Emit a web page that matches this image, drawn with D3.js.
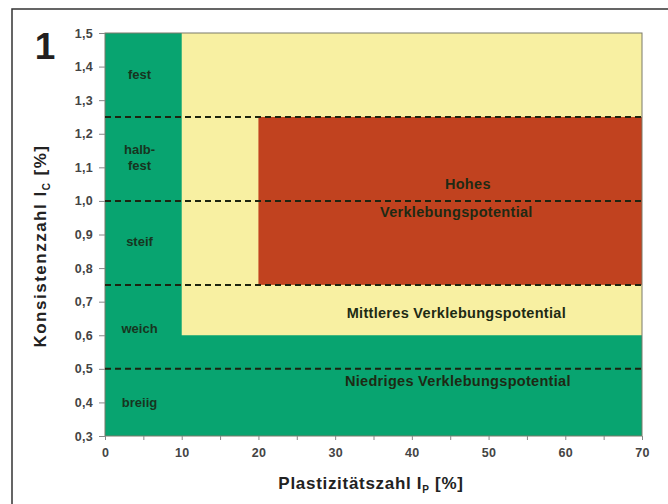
<!DOCTYPE html>
<html><head><meta charset="utf-8">
<script src="https://cdn.jsdelivr.net/npm/d3@7"></script>
<style>body{margin:0;background:#fff}svg{display:block}</style>
</head><body>
<script>
const xTicks = [0,10,20,30,40,50,60,70];
const xMinor = [5,15,25,35,45,55,65];
const yTicks = [0.3,0.4,0.5,0.6,0.7,0.8,0.9,1.0,1.1,1.2,1.3,1.4,1.5];
const zones = [
  {name:"niedrig", x0:0, x1:70, y0:0.3, y1:1.5, color:"#08a470"},
  {name:"mittel", x0:10, x1:70, y0:0.6, y1:1.5, color:"#f8f0a2"},
  {name:"hoch", x0:20, x1:70, y0:0.75, y1:1.25, color:"#c1421f"}
];
const dashLevels = [1.25, 1.0, 0.75, 0.5];
const stateLabels = [
  {lines:["fest"], x:4.5, y:1.375},
  {lines:["halb-","fest"], x:4.5, y:1.13},
  {lines:["steif"], x:4.5, y:0.88},
  {lines:["weich"], x:4.5, y:0.62},
  {lines:["breiig"], x:4.5, y:0.40}
];
const zoneLabels = [
  {text:"Hohes", x:47.3, y:1.05},
  {text:"Verklebungspotential", x:45.8, y:0.967},
  {text:"Mittleres Verklebungspotential", x:45.8, y:0.666},
  {text:"Niedriges Verklebungspotential", x:46, y:0.465}
];

const W=668,H=504;
const svg=d3.select("body").append("svg").attr("width",W).attr("height",H);
svg.append("rect").attr("x",12).attr("y",9).attr("width",700).attr("height",600)
  .attr("fill","none").attr("stroke","#333").attr("stroke-width",1.5);
svg.append("text").attr("x",45).attr("y",59).attr("text-anchor","middle")
  .attr("font-family","Liberation Sans, Arial, sans-serif").attr("font-weight","bold")
  .attr("font-size",37).attr("fill","#231f20").text("1");

const x=d3.scaleLinear().domain([0,70]).range([105,642]);
const y=d3.scaleLinear().domain([0.3,1.5]).range([436,33]);
const font="Liberation Sans, Arial, sans-serif";

svg.selectAll("rect.zone").data(zones).enter().append("rect").attr("class","zone")
  .attr("x",d=>x(d.x0)).attr("y",d=>y(d.y1))
  .attr("width",d=>x(d.x1)-x(d.x0)).attr("height",d=>y(d.y0)-y(d.y1))
  .attr("fill",d=>d.color);
svg.append("rect").attr("x",x(0)).attr("y",y(1.5)).attr("width",x(70)-x(0)).attr("height",y(0.3)-y(1.5))
  .attr("fill","none").attr("stroke","#7a7a6a").attr("stroke-width",1);

svg.selectAll("line.dash").data(dashLevels).enter().append("line").attr("class","dash")
  .attr("x1",x(0)).attr("x2",x(70)).attr("y1",d=>y(d)).attr("y2",d=>y(d))
  .attr("stroke","#1d2410").attr("stroke-width",2).attr("stroke-dasharray","6,4");

// axes
const yAxis=d3.axisLeft(y).tickValues(yTicks).tickSize(6).tickPadding(6)
  .tickFormat(d=>d3.format(".1f")(d).replace(".",","));
const gy=svg.append("g").attr("transform",`translate(${x(0)},0)`).call(yAxis);
gy.select(".domain").remove();
gy.selectAll("line").attr("stroke","#888");
gy.selectAll("text").attr("font-family",font).attr("font-weight","bold").attr("font-size",12.5)
  .attr("letter-spacing",0.3).attr("fill","#444");

const xAxis=d3.axisBottom(x).tickValues(xTicks).tickSize(4).tickPadding(8);
const gx=svg.append("g").attr("transform",`translate(0,${y(0.3)})`).call(xAxis);
gx.select(".domain").remove();
gx.selectAll("line").attr("stroke","#888");
gx.selectAll("text").attr("font-family",font).attr("font-weight","bold").attr("font-size",12.5)
  .attr("letter-spacing",0.3).attr("fill","#444");
const gxm=svg.append("g").attr("transform",`translate(0,${y(0.3)})`)
  .call(d3.axisBottom(x).tickValues(xMinor).tickSize(4).tickFormat(""));
gxm.select(".domain").remove();
gxm.selectAll("line").attr("stroke","#888");

// state labels
stateLabels.forEach(s=>{
  const n=s.lines.length;
  s.lines.forEach((l,i)=>{
    svg.append("text").attr("x",x(s.x)).attr("y",y(s.y)+4.5+(i-(n-1)/2)*16)
      .attr("text-anchor","middle").attr("font-family",font).attr("font-weight","bold")
      .attr("font-size",13).attr("fill","#17351f").text(l);
  });
});
zoneLabels.forEach(z=>{
  svg.append("text").attr("x",x(z.x)).attr("y",y(z.y)+5).attr("text-anchor","middle")
    .attr("font-family",font).attr("font-weight","bold").attr("font-size",14.5)
    .attr("letter-spacing",0.3).attr("fill","#1e2a14").text(z.text);
});

// axis titles
const xt=svg.append("text").attr("x",371).attr("y",489).attr("text-anchor","middle")
  .attr("font-family",font).attr("font-weight","bold").attr("font-size",17).attr("letter-spacing",0.7).attr("fill","#222");
xt.append("tspan").text("Plastizitätszahl I");
xt.append("tspan").attr("font-size",10).attr("dy",4).text("P");
xt.append("tspan").attr("dy",-4).text(" [%]");
const yt=svg.append("text").attr("transform","translate(46,246) rotate(-90)").attr("text-anchor","middle")
  .attr("font-family",font).attr("font-weight","bold").attr("font-size",17).attr("letter-spacing",1.5).attr("fill","#222");
yt.append("tspan").text("Konsistenzzahl I");
yt.append("tspan").attr("font-size",10).attr("dy",4).text("C");
yt.append("tspan").attr("dy",-4).text(" [%]");
</script>
</body></html>
